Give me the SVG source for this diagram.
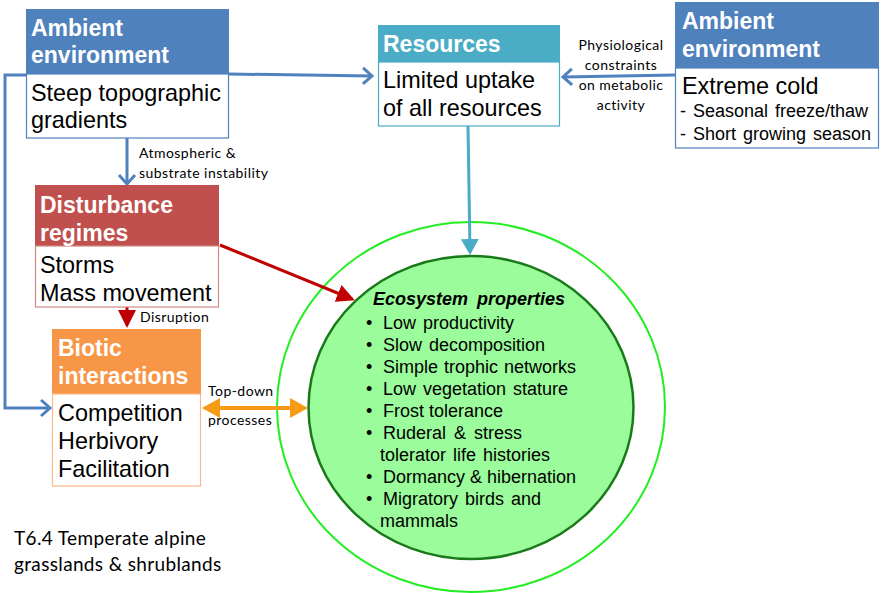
<svg xmlns="http://www.w3.org/2000/svg" width="881" height="593" viewBox="0 0 881 593">
<style>
  .hd { font-family: "Liberation Sans", Arial, sans-serif; font-weight: bold; font-size: 23px; fill: #ffffff; }
  .bd { font-family: "Liberation Sans", Arial, sans-serif; font-size: 23.4px; fill: #000000; }
  .sm { font-family: "Liberation Sans", Arial, sans-serif; font-size: 18px; fill: #000000; }
  .lb { font-family: Lato, "Open Sans", sans-serif; font-size: 14px; letter-spacing: 0.45px; fill: #000000; }
  .eco { font-family: "Liberation Sans", Arial, sans-serif; font-size: 18px; fill: #000000; }
  .ft { font-family: Lato, "Open Sans", sans-serif; font-size: 19px; letter-spacing: 0.35px; fill: #000000; }
</style>
<defs>
  <marker id="openBlue" viewBox="0 0 14 20" refX="11" refY="10" markerWidth="14" markerHeight="20" markerUnits="userSpaceOnUse" orient="auto">
    <path d="M2,2 L11,10 L2,18" fill="none" stroke="#4F81BD" stroke-width="3"/>
  </marker>
  <marker id="arrCyan" viewBox="0 0 16 18" refX="13" refY="9" markerWidth="16" markerHeight="18" markerUnits="userSpaceOnUse" orient="auto">
    <path d="M0,0 L16,9 L0,18 Z" fill="#4BACC6"/>
  </marker>
  <marker id="arrRed" viewBox="0 0 18 18" refX="15" refY="9" markerWidth="18" markerHeight="18" markerUnits="userSpaceOnUse" orient="auto">
    <path d="M0,0 L18,9 L0,18 Z" fill="#C00000"/>
  </marker>
  <marker id="arrOrange" viewBox="0 0 18 20" refX="15" refY="10" markerWidth="18" markerHeight="20" markerUnits="userSpaceOnUse" orient="auto-start-reverse">
    <path d="M0,0 L18,10 L0,20 Z" fill="#F79A16"/>
  </marker>
</defs>

<g id="ecosystem">
  <ellipse cx="471" cy="407" rx="194" ry="185" fill="none" stroke="#22EE22" stroke-width="2"/>
  <ellipse cx="471" cy="407.5" rx="162.5" ry="151.5" fill="#9BFC9B" stroke="#1A7A1A" stroke-width="2.5"/>
  <text class="eco" x="373" y="305" font-weight="bold" font-style="italic" word-spacing="4">Ecosystem properties</text>
  <g class="eco">
    <text x="366" y="329">•</text><text x="383" y="329" class="eco" word-spacing="2">Low productivity</text>
    <text x="366" y="351">•</text><text x="383" y="351" class="eco" word-spacing="2">Slow decomposition</text>
    <text x="366" y="373">•</text><text x="383" y="373" class="eco" word-spacing="1">Simple trophic networks</text>
    <text x="366" y="395">•</text><text x="383" y="395" class="eco" word-spacing="2">Low vegetation stature</text>
    <text x="366" y="417">•</text><text x="383" y="417" class="eco">Frost tolerance</text>
    <text x="366" y="439">•</text><text x="383" y="439" class="eco" word-spacing="3">Ruderal &amp; stress</text>
    <text x="380" y="461" class="eco" word-spacing="2">tolerator life histories</text>
    <text x="366" y="483">•</text><text x="383" y="483" class="eco">Dormancy &amp; hibernation</text>
    <text x="366" y="505">•</text><text x="383" y="505" class="eco" word-spacing="2">Migratory birds and</text>
    <text x="380" y="527" class="eco">mammals</text>
  </g>
</g>

<g id="connectors" fill="none">
  <path d="M26,75 H5 V408 H50" stroke="#4F81BD" stroke-width="3" marker-end="url(#openBlue)"/>
  <path d="M229,74 L372,76" stroke="#4F81BD" stroke-width="3" marker-end="url(#openBlue)"/>
  <path d="M127,138 V184" stroke="#4F81BD" stroke-width="3" marker-end="url(#openBlue)"/>
  <path d="M675,75 L563,77" stroke="#4F81BD" stroke-width="3" marker-end="url(#openBlue)"/>
  <path d="M468,126 L470,252" stroke="#4BACC6" stroke-width="3" marker-end="url(#arrCyan)"/>
  <path d="M220,245 L352,299" stroke="#C00000" stroke-width="3" marker-end="url(#arrRed)"/>
  <path d="M127,307 V325" stroke="#C00000" stroke-width="3" marker-end="url(#arrRed)"/>
  <path d="M205,408 H305" stroke="#F79A16" stroke-width="4" marker-start="url(#arrOrange)" marker-end="url(#arrOrange)"/>
  <g>
    <text class="lb" x="139" y="158">Atmospheric &amp;</text>
    <text class="lb" x="139" y="178">substrate instability</text>
    <text class="lb" x="140" y="322">Disruption</text>
    <text class="lb" x="208" y="396">Top-down</text>
    <text class="lb" x="208" y="425">processes</text>
    <text class="lb" x="621" y="50" text-anchor="middle">Physiological</text>
    <text class="lb" x="621" y="70" text-anchor="middle">constraints</text>
    <text class="lb" x="621" y="90" text-anchor="middle">on metabolic</text>
    <text class="lb" x="621" y="110" text-anchor="middle">activity</text>
  </g>
</g>

<g id="ambient-left">
  <rect x="26" y="9" width="203" height="65" fill="#4F81BD"/>
  <rect x="26.5" y="74" width="202" height="64" fill="#ffffff" stroke="#4F81BD" stroke-width="1.2"/>
  <text class="hd" x="31" y="36">Ambient</text>
  <text class="hd" x="31" y="63">environment</text>
  <text class="bd" x="31" y="101">Steep topographic</text>
  <text class="bd" x="31" y="128">gradients</text>
</g>

<g id="resources">
  <rect x="378" y="25" width="182" height="37" fill="#4BACC6"/>
  <rect x="378.5" y="62" width="181" height="64" fill="#ffffff" stroke="#4BACC6" stroke-width="1.2"/>
  <text class="hd" x="383" y="52">Resources</text>
  <text class="bd" x="383" y="88">Limited uptake</text>
  <text class="bd" x="383" y="116">of all resources</text>
</g>

<g id="ambient-right">
  <rect x="675" y="2" width="204" height="66" fill="#4F81BD"/>
  <rect x="675.5" y="68" width="203" height="80" fill="#ffffff" stroke="#4F81BD" stroke-width="1.2"/>
  <text class="hd" x="682" y="29">Ambient</text>
  <text class="hd" x="682" y="57">environment</text>
  <text class="bd" x="682" y="94">Extreme cold</text>
  <text class="sm" x="680" y="117" word-spacing="2">- Seasonal freeze/thaw</text>
  <text class="sm" x="680" y="140" word-spacing="2">- Short growing season</text>
</g>

<g id="disturbance">
  <rect x="35" y="185" width="184" height="61" fill="#C0504D"/>
  <rect x="35.5" y="246" width="183" height="61" fill="#ffffff" stroke="#D08A88" stroke-width="1.2"/>
  <text class="hd" x="40" y="213">Disturbance</text>
  <text class="hd" x="40" y="241">regimes</text>
  <text class="bd" x="40" y="273">Storms</text>
  <text class="bd" x="40" y="301">Mass movement</text>
</g>

<g id="biotic">
  <rect x="52" y="329" width="149" height="65" fill="#F79646"/>
  <rect x="52.5" y="394" width="148" height="92" fill="#ffffff" stroke="#FAB98A" stroke-width="1.2"/>
  <text class="hd" x="58" y="356">Biotic</text>
  <text class="hd" x="58" y="384">interactions</text>
  <text class="bd" x="58" y="421">Competition</text>
  <text class="bd" x="58" y="449">Herbivory</text>
  <text class="bd" x="58" y="477">Facilitation</text>
</g>

<g id="title">
  <text class="ft" x="14" y="545">T6.4 Temperate alpine</text>
  <text class="ft" x="14" y="571">grasslands &amp; shrublands</text>
</g>
</svg>
